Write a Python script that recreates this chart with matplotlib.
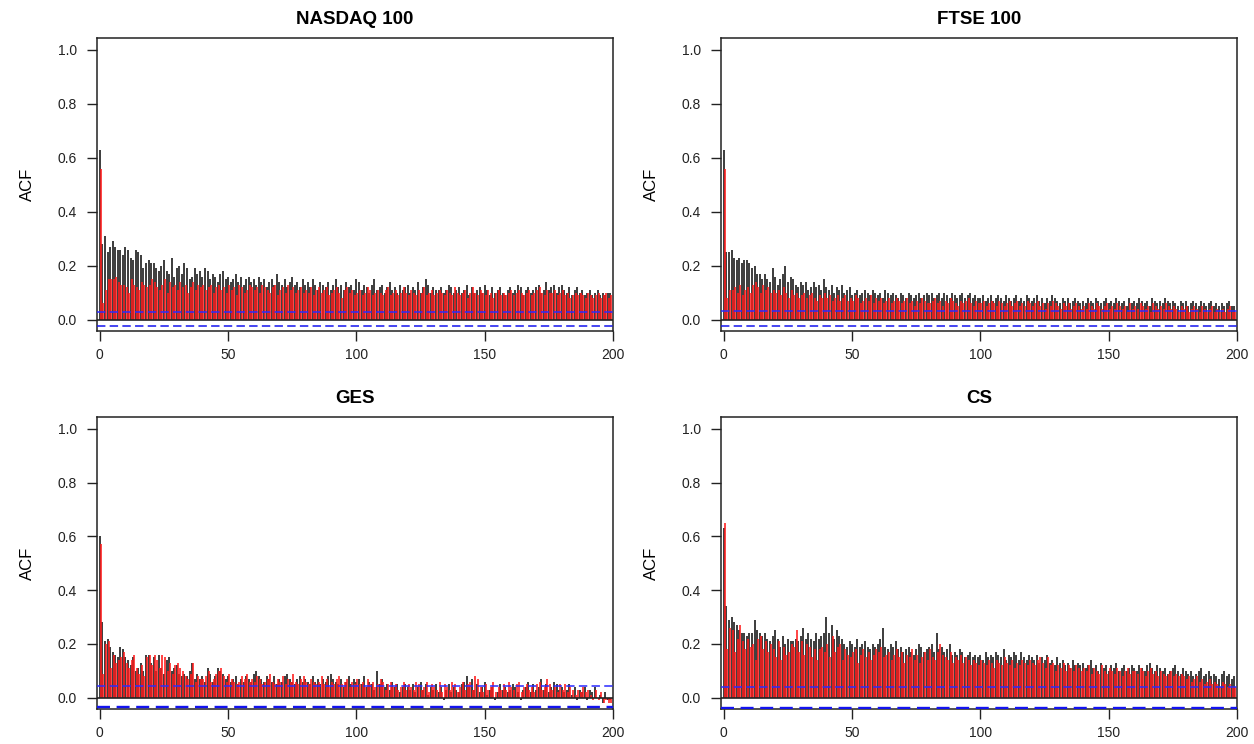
import numpy as np
import matplotlib
matplotlib.use("Agg")
import matplotlib.pyplot as plt

plt.rcParams['font.family'] = ['Liberation Sans', 'DejaVu Sans']

titles = ["NASDAQ 100", "FTSE 100", "GES", "CS"]

# ACF values (x100), lags 0..199 ; black series and red series
nasdaq_black = [63,
 28,31,25,27,29,27,26,26,24,27,26,23,22,26,25,24,19,21,22,
 21,21,19,18,20,22,18,17,23,16,19,20,17,21,19,15,16,19,17,18,
 16,19,18,15,17,16,14,17,18,15,16,14,15,17,14,16,13,15,16,14,
 15,13,16,14,15,12,14,15,13,17,14,13,15,12,14,16,13,14,12,15,
 13,14,12,15,13,11,14,13,12,14,11,13,15,12,13,11,14,12,13,11,
 15,14,11,13,12,10,13,15,11,12,13,10,12,14,11,12,10,13,11,12,
 13,10,12,11,14,10,12,15,13,10,12,11,11,12,10,11,13,12,10,11,
 12,10,11,13,9,12,10,11,12,10,13,11,9,12,10,11,12,10,9,11,
 12,10,11,13,12,9,11,12,10,11,12,13,10,11,14,11,12,13,10,12,
 13,11,10,12,9,11,12,10,11,9,10,11,9,10,11,9,10,9,10,10]
nasdaq_red = [56,
 6,11,15,15,15,16,14,13,13,12,10,15,13,12,11,14,13,12,13,
 15,14,12,11,13,15,10,14,12,13,11,14,12,13,10,12,14,11,13,12,
 13,11,12,13,10,12,13,11,12,10,13,11,12,9,13,12,10,11,13,12,
 11,12,10,13,12,11,10,12,13,9,11,12,10,13,11,12,10,11,12,10,
 11,10,12,9,11,12,10,11,12,9,10,11,12,10,8,11,12,10,11,9,
 10,11,9,10,12,11,9,10,11,10,9,11,12,9,10,11,9,10,12,10,
 9,11,10,9,11,10,12,9,10,11,9,10,11,10,9,11,10,9,12,10,
 9,10,11,8,10,12,10,9,11,10,9,11,10,8,10,11,9,10,9,10,
 11,9,10,11,10,9,10,11,9,10,11,12,10,9,11,10,10,11,9,10,
 11,9,10,8,9,10,9,10,9,8,10,9,8,9,10,8,9,10,8,9]

ftse_black = [63,
 25,25,26,23,22,23,21,22,22,21,19,20,17,17,15,17,15,14,19,
 16,13,15,17,20,14,16,15,13,12,14,13,14,11,12,14,12,13,11,15,
 12,11,13,10,12,11,13,10,11,12,9,10,11,9,10,11,10,9,11,10,
 9,10,8,11,10,9,10,9,8,10,9,8,10,9,8,9,10,8,9,10,
 9,10,8,9,10,8,10,9,8,10,9,8,9,10,8,9,10,8,9,8,
 8,9,7,8,9,7,8,9,8,7,9,8,7,8,9,7,8,7,9,8,
 7,8,9,7,8,6,8,7,9,8,7,6,8,7,8,6,7,8,7,6,
 7,6,8,7,6,8,7,6,7,8,6,7,6,8,7,6,7,5,8,6,
 7,6,8,7,6,7,5,8,7,6,7,6,8,7,6,7,6,5,7,6,
 7,5,6,7,6,5,7,6,5,6,7,5,6,5,6,5,6,7,5,5]
ftse_red = [56,
 8,11,11,12,10,13,9,11,12,10,13,14,12,10,13,11,12,10,11,
 10,11,9,12,10,8,11,9,10,8,9,10,8,9,10,8,7,9,8,10,
 8,9,7,8,9,7,8,9,7,8,7,9,8,6,7,8,7,9,6,8,
 7,8,6,7,8,6,7,8,7,6,7,8,6,7,5,7,6,8,7,6,
 6,7,8,6,7,5,7,6,8,7,6,5,7,6,7,8,6,5,7,6,
 6,7,5,6,7,6,5,7,6,5,6,7,5,6,7,5,6,5,7,6,
 5,6,7,5,6,4,6,5,7,6,5,4,6,5,6,4,5,6,5,4,
 5,4,6,5,4,6,5,4,5,6,4,5,4,6,5,4,5,3,6,4,
 5,4,6,5,4,5,3,6,5,4,5,4,6,5,4,5,4,3,5,4,
 5,3,4,5,4,3,5,4,3,4,5,3,4,3,4,3,4,5,3,3]

ges_black = [60,
 28,21,22,19,17,16,15,19,18,15,14,12,15,10,11,13,10,16,16,
 13,15,10,16,11,9,14,15,10,11,12,9,8,9,8,10,13,7,9,7,
 8,6,11,9,6,8,11,10,9,7,8,6,7,8,5,7,6,8,7,6,
 9,10,8,7,6,8,7,6,8,5,7,6,8,9,7,6,5,7,8,6,
 7,6,5,8,6,7,5,7,6,8,9,7,6,5,7,4,6,8,5,7,
 6,7,5,8,4,6,5,3,10,5,7,4,5,3,6,4,5,2,4,5,
 4,3,5,2,4,6,3,5,1,4,3,5,2,4,-1,3,5,2,4,3,
 2,5,6,8,4,7,3,5,2,4,6,1,3,4,-1,2,5,3,4,2,
 3,5,4,2,-1,3,4,6,2,5,3,4,7,3,5,2,4,6,5,3,
 4,2,3,5,1,4,-1,3,2,4,-1,3,2,4,0,1,-2,2,-1,-1]
ges_red = [57,
 9,20,21,11,16,13,14,15,17,13,11,14,16,11,9,12,8,15,16,
 12,16,14,11,16,15,10,13,9,12,13,11,10,8,7,9,13,6,8,7,
 7,8,10,6,7,9,10,11,8,6,9,7,6,5,6,8,7,9,6,7,
 6,8,7,5,6,7,9,6,5,7,6,8,5,7,6,9,6,5,7,8,
 6,5,7,6,5,6,8,5,7,4,6,5,7,8,5,6,7,4,6,5,
 7,5,6,4,7,5,6,4,5,7,6,3,5,6,4,5,3,4,6,3,
 5,4,3,6,5,3,4,6,2,5,4,3,6,2,5,4,3,6,5,2,
 4,6,3,5,6,3,8,7,4,2,5,3,4,6,2,4,3,5,3,6,
 4,3,5,6,2,4,5,3,4,2,5,6,3,4,7,5,3,4,2,5,
 3,5,2,4,3,1,3,2,4,2,3,1,-1,3,-1,2,-2,-1,-2,-2]

cs_black = [63,
 34,29,30,28,27,25,24,24,23,24,24,29,25,24,23,24,22,21,23,
 25,22,19,23,20,22,21,21,22,21,23,26,22,24,22,21,24,22,23,24,
 30,24,27,22,25,23,22,20,19,21,20,19,22,19,20,21,19,18,20,19,
 20,22,26,19,18,20,19,21,18,19,17,18,19,17,16,18,20,19,17,18,
 19,20,17,24,18,19,17,18,20,16,17,16,18,17,15,16,17,15,16,15,
 16,14,17,15,16,15,17,16,15,18,14,16,15,17,16,14,17,15,14,16,
 15,14,16,13,15,14,16,13,14,12,15,13,14,12,13,11,14,12,13,12,
 13,11,12,14,11,12,10,13,11,12,10,12,11,13,10,11,12,10,11,12,
 11,10,12,11,10,12,13,11,10,12,11,10,11,9,10,11,12,10,9,11,
 10,9,10,8,9,10,11,8,9,10,8,9,8,7,9,10,8,9,7,8]
cs_red = [65,
 18,26,25,17,22,27,21,18,22,19,20,14,22,23,18,21,17,20,18,
 15,21,14,19,16,17,20,19,25,17,21,16,20,19,15,18,14,18,19,17,
 20,15,23,17,19,20,14,18,16,15,17,18,13,16,18,15,17,14,16,18,
 17,19,15,16,17,14,16,18,15,17,13,16,15,18,14,16,13,15,17,14,
 18,15,14,17,20,16,15,14,17,13,15,14,16,13,15,14,12,14,13,12,
 14,13,12,14,13,11,14,13,12,15,13,12,14,11,13,12,14,13,12,14,
 13,12,14,15,13,11,15,12,13,10,12,11,13,10,12,11,10,12,11,10,
 11,10,12,9,11,10,9,12,10,9,11,10,9,11,10,8,10,11,9,10,
 10,9,11,10,8,10,11,9,10,8,10,9,8,9,10,8,9,8,9,8,
 7,8,6,7,8,6,7,5,6,7,5,6,5,4,6,5,4,5,4,4]

ci_upper = [0.030, 0.031, 0.042, 0.040]
ci_lower = [-0.025, -0.025, -0.036, -0.038]
ci_lower_lw = [1.1, 1.1, 1.7, 1.7]

blacks = [nasdaq_black, ftse_black, ges_black, cs_black]
reds = [nasdaq_red, ftse_red, ges_red, cs_red]

fig = plt.figure(figsize=(12.54, 7.44), dpi=100)
W, H = 1254, 744
boxes = [(97, 38, 613, 331), (721, 38, 1237, 331), (97, 417, 613, 709), (721, 417, 1237, 709)]

for i in range(4):
    l, t, r, b = boxes[i]
    ax = fig.add_axes([l / W, 1 - b / H, (r - l) / W, (b - t) / H])
    bk = np.array(blacks[i]) / 100.0
    rd = np.array(reds[i]) / 100.0
    lags = np.arange(len(bk))
    ax.vlines(lags, 0, bk, color='#111111', linewidth=1.15, zorder=2)
    ax.vlines(lags + 0.4, 0, rd, color='#ff1a1a', linewidth=1.15, zorder=3)
    ax.axhline(0, color='#222222', linewidth=1.2, zorder=4)
    ax.axhline(ci_upper[i], color='#2a2aff', linestyle=(0, (5.5, 2.8)),
               linewidth=1.1, zorder=5)
    ax.axhline(ci_lower[i], color='#1414ee', linestyle=(0, (5.5, 2.8)),
               linewidth=ci_lower_lw[i], zorder=5)
    ax.set_xlim(-1.1, 200)
    ax.set_ylim(-0.042, 1.044)
    ax.set_yticks([0.0, 0.2, 0.4, 0.6, 0.8, 1.0])
    ax.set_yticklabels(["0.0", "0.2", "0.4", "0.6", "0.8", "1.0"])
    ax.set_xticks([0, 50, 100, 150, 200])
    ax.tick_params(direction='out', length=7.5, width=1, labelsize=10, colors='#222222')
    ax.tick_params(axis='x', pad=5)
    ax.tick_params(axis='y', pad=7)
    for s in ax.spines.values():
        s.set_linewidth(1.1)
        s.set_color('#222222')
    ax.set_title(titles[i], fontsize=13.5, fontweight='bold', pad=10)
    ax.set_ylabel("ACF", fontsize=12, labelpad=16)

fig.savefig("out.png", dpi=100)
